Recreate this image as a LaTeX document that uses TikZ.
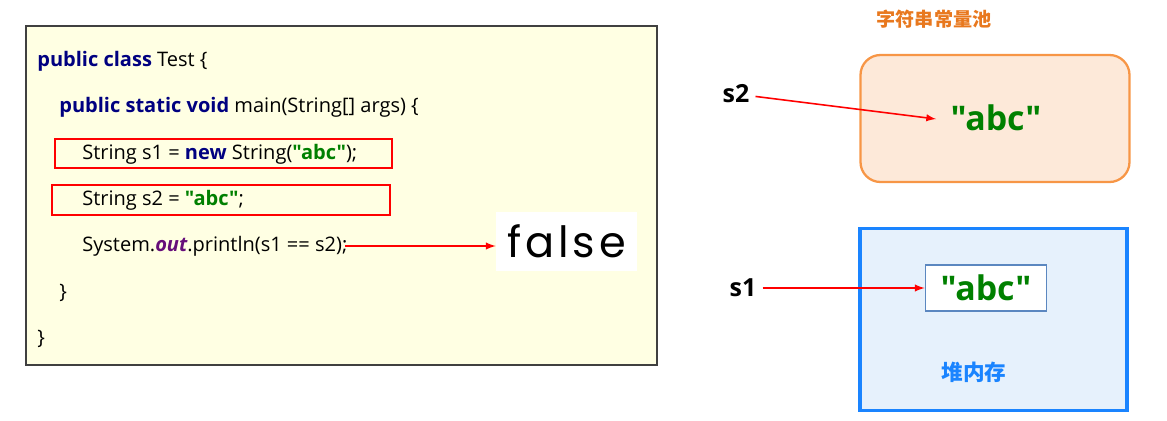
\documentclass[tikz,border=0pt]{standalone}
\usepackage{fontspec}
\setmainfont{Open Sans}[Ligatures=TeXOff]
\newfontfamily\cjk{Noto Sans CJK SC}
\newfontfamily\falsefont[LetterSpace=9]{Poppins}
\usetikzlibrary{arrows, shapes, positioning}

\definecolor{kwblue}{HTML}{000080}
\definecolor{strgreen}{HTML}{008000}
\definecolor{outpurple}{HTML}{660E7A}
\definecolor{codebg}{HTML}{FFFFE3}
\definecolor{poolfill}{HTML}{FDE9D9}
\definecolor{poolline}{HTML}{F79646}
\definecolor{heapfill}{HTML}{E6F1FC}
\definecolor{heapline}{HTML}{1A84FF}
\definecolor{objline}{HTML}{5B87C0}
\definecolor{titleorange}{HTML}{E8781E}

\newcommand{\kw}[1]{\textbf{\color{kwblue}#1}}
\newcommand{\str}[1]{\textbf{\color{strgreen}#1}}
\newcommand{\dq}{\symbol{34}}

\tikzset{
    codeline/.style={anchor=base west, inner sep=0pt, font=\fontsize{11.4}{14}\selectfont},
    hlbox/.style={draw=red, line width=1.6pt, rectangle, inner sep=0pt},
    varname/.style={font=\fontsize{14.2}{16}\selectfont\bfseries},
    abctext/.style={font=\fontsize{19.3}{22}\selectfont\bfseries, text=strgreen},
    refarrow/.style={-latex, red, line width=0.9pt}
}

\begin{document}
\begin{tikzpicture}[x=0.02cm, y=-0.02cm]
    \useasboundingbox (0,0) rectangle (1167,420);

    % code
    \node[draw=black!75, line width=0.9pt, fill=codebg, minimum width=631*0.02cm, minimum height=339*0.02cm, inner sep=0pt] (code) at (341.5,195.5) {};
    \node[codeline] (l1) at (37,66) {\kw{public class} Test \{};
    \node[codeline] (l2) at (59,112) {\kw{public static void} main(String[] args) \{};
    \node[codeline] (l3) at (82,159) {String s1 = \kw{new} String(\str{\dq abc\dq});};
    \node[codeline] (l4) at (82,205) {String s2 = \str{\dq abc\dq};};
    \node[codeline] (l5) at (82,251) {System.\textbf{\textit{\color{outpurple}out}}.println(s1 == s2);};
    \node[codeline] (l6) at (59,298) {\}};
    \node[codeline] (l7) at (37,344) {\}};
    \node[hlbox, minimum width=337*0.02cm, minimum height=29*0.02cm] (box1) at (223.5,153.5) {};
    \node[hlbox, minimum width=338*0.02cm, minimum height=30*0.02cm] (box2) at (221,200) {};

    \node[fill=white, minimum width=141*0.02cm, minimum height=59*0.02cm, inner sep=0pt, font=\falsefont\fontsize{24.5}{27}\selectfont] (result) at (566.5,241.5) {false};
    \coordinate (callend) at (345,246);
    \path[refarrow] (callend) edge node {} (result.west |- callend);

    % string pool
    \node[font=\cjk\fontsize{10.9}{12}\selectfont\bfseries, text=titleorange] (pooltitle) at (934,19) {字符串常量池};
    \node[draw=poolline, fill=poolfill, line width=1.3pt, rounded corners=0.4cm, minimum width=269*0.02cm, minimum height=127*0.02cm] (pool) at (995,118.5) {};
    \node[abctext] (poolabc) at (996,118) {\dq abc\dq};
    \node[varname] (s2) at (736,94) {s2};

    % heap
    \node[draw=heapline, fill=heapfill, line width=1.9pt, minimum width=267*0.02cm, minimum height=182*0.02cm] (heap) at (993.5,319.5) {};
    \node[draw=objline, fill=white, line width=1pt, minimum width=121*0.02cm, minimum height=46*0.02cm, inner sep=0pt] (heapobj) at (986,288) {};
    \node[abctext] (heapabc) at (986,288) {\dq abc\dq};
    \node[font=\cjk\fontsize{12.3}{14}\selectfont\bfseries, text=heapline] (heaplabel) at (974,372) {堆内存};
    \node[varname] (s1) at (743,288) {s1};

    \coordinate (s2tip) at (936,119);
    \path[refarrow] (s2) edge node {} (s2tip);
    \path[refarrow] (s1) edge node {} (heapobj.west);
\end{tikzpicture}
\end{document}
